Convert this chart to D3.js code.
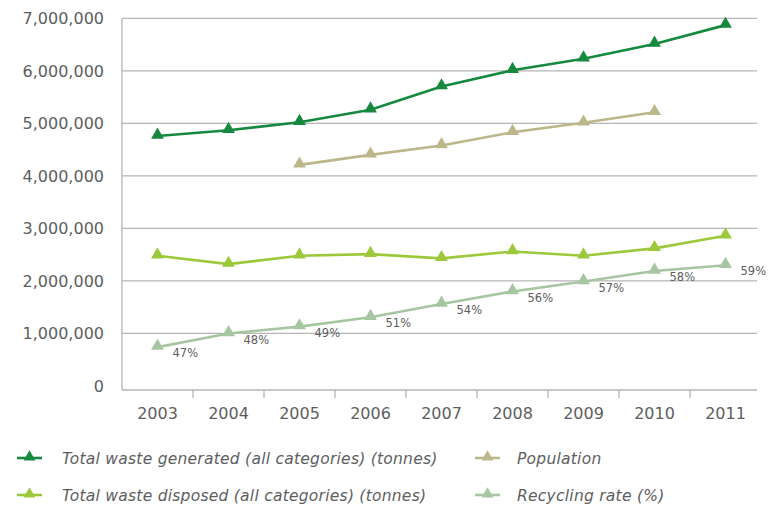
<!DOCTYPE html>
<html>
<head>
<meta charset="utf-8">
<script src="https://cdn.jsdelivr.net/npm/d3@7"></script>
<style>
  body { margin: 0; background: #fff; }
  svg { display: block; font-family: "DejaVu Sans", sans-serif; }
</style>
</head>
<body>
<svg id="chart" width="769" height="505" viewBox="0 0 769 505"></svg>
<script>
// data
const years = ["2003", "2004", "2005", "2006", "2007", "2008", "2009", "2010", "2011"];
const wasteGenerated = [4760000, 4870000, 5020000, 5260000, 5700000, 6010000, 6230000, 6510000, 6870000];
const population = [null, null, 4210000, 4400000, 4580000, 4830000, 5010000, 5210000, null];
const wasteDisposed = [2480000, 2320000, 2480000, 2510000, 2430000, 2560000, 2480000, 2620000, 2860000];
const recycling = [740000, 1000000, 1130000, 1310000, 1560000, 1800000, 1990000, 2190000, 2300000];
const recyclingRate = ["47%", "48%", "49%", "51%", "54%", "56%", "57%", "58%", "59%"];
const yTicks = [0, 1000000, 2000000, 3000000, 4000000, 5000000, 6000000, 7000000];

const seriesList = [
  { name: "Total waste generated (all categories) (tonnes)", values: wasteGenerated, color: "#16893e" },
  { name: "Population", values: population, color: "#bcb68a" },
  { name: "Total waste disposed (all categories) (tonnes)", values: wasteDisposed, color: "#9cc93b" },
  { name: "Recycling rate (%)", values: recycling, color: "#a6c6a1" }
];

const svg = d3.select("#chart");
const textColor = "#5d5e60";
const gridColor = "#b5b5b5";

const x = d3.scaleBand().domain(years).range([122, 761]);
const y = d3.scaleLinear().domain([0, 7000000]).range([386, 18.3]);
const xMid = d => x(d) + x.bandwidth() / 2;
const plotRight = 757;

// gridlines
svg.append("g")
  .selectAll("line")
  .data(yTicks.filter(t => t > 0))
  .enter()
  .append("line")
  .attr("x1", x.range()[0])
  .attr("x2", plotRight)
  .attr("y1", d => y(d))
  .attr("y2", d => y(d))
  .attr("stroke", gridColor)
  .attr("stroke-width", 1.3);

// y labels
svg.append("g")
  .selectAll("text")
  .data(yTicks)
  .enter()
  .append("text")
  .attr("x", 104)
  .attr("y", d => y(d))
  .attr("dy", "0.36em")
  .attr("text-anchor", "end")
  .attr("fill", textColor)
  .attr("font-size", 16)
  .text(d => d3.format(",")(d));

// axes lines
const axisY = y(0) + 4;
svg.append("line")
  .attr("x1", x.range()[0]).attr("x2", x.range()[0])
  .attr("y1", y(7000000)).attr("y2", axisY)
  .attr("stroke", gridColor).attr("stroke-width", 1.3);
svg.append("line")
  .attr("x1", x.range()[0]).attr("x2", plotRight)
  .attr("y1", axisY).attr("y2", axisY)
  .attr("stroke", gridColor).attr("stroke-width", 1.3);

// x ticks between categories
svg.append("g")
  .selectAll("line")
  .data(years.slice(1))
  .enter()
  .append("line")
  .attr("x1", d => x(d)).attr("x2", d => x(d))
  .attr("y1", axisY).attr("y2", axisY + 8)
  .attr("stroke", gridColor).attr("stroke-width", 1.3);

svg.append("g")
  .selectAll("text")
  .data(years)
  .enter()
  .append("text")
  .attr("x", d => xMid(d))
  .attr("y", 419)
  .attr("text-anchor", "middle")
  .attr("fill", textColor)
  .attr("font-size", 16)
  .text(d => d);

// lines + markers
const triangle = d3.symbol().type(d3.symbolTriangle).size(72);
const line = d3.line()
  .defined(d => d.v != null)
  .x(d => xMid(d.year))
  .y(d => y(d.v));

seriesList.forEach(s => {
  const pts = years.map((yr, i) => ({ year: yr, v: s.values[i] }));
  svg.append("path")
    .datum(pts)
    .attr("fill", "none")
    .attr("stroke", s.color)
    .attr("stroke-width", 2.6)
    .attr("d", line);
  svg.append("g")
    .selectAll("path")
    .data(pts.filter(d => d.v != null))
    .enter()
    .append("path")
    .attr("d", triangle)
    .attr("transform", d => `translate(${xMid(d.year)},${y(d.v) - 1})`)
    .attr("fill", s.color);
});

// recycling rate labels
svg.append("g")
  .selectAll("text")
  .data(years)
  .enter()
  .append("text")
  .attr("x", d => xMid(d) + 15)
  .attr("y", (d, i) => y(recycling[i]) + 6)
  .attr("dy", "0.36em")
  .attr("fill", textColor)
  .attr("font-size", 11.5)
  .text((d, i) => recyclingRate[i]);

// legend
const legendPos = [[17, 458], [475, 458], [17, 495], [475, 495]];
seriesList.forEach((s, k) => {
  const [lx, ly] = legendPos[k];
  const g = svg.append("g").attr("transform", `translate(${lx},${ly})`);
  g.append("line")
    .attr("x1", 0).attr("x2", 25)
    .attr("y1", 0).attr("y2", 0)
    .attr("stroke", s.color).attr("stroke-width", 2.6);
  g.append("path")
    .attr("d", d3.symbol().type(d3.symbolTriangle).size(60))
    .attr("transform", "translate(12.5,-1)")
    .attr("fill", s.color);
  g.append("text")
    .attr("x", k % 2 === 1 ? 42 : 45)
    .attr("y", 0)
    .attr("dy", "0.36em")
    .attr("fill", textColor)
    .attr("font-size", 15.5)
    .attr("font-style", "italic")
    .attr("letter-spacing", 0.25)
    .text(s.name);
});
</script>
</body>
</html>
